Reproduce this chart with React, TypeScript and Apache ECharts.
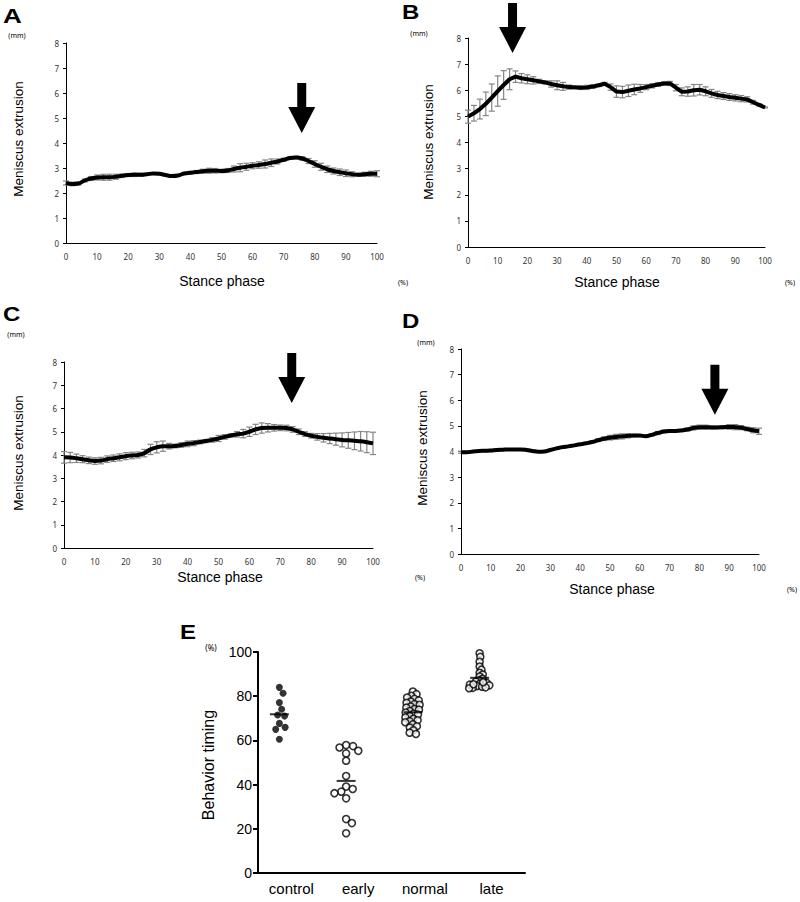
import React, { useEffect, useRef } from "react";
import * as echarts from "echarts";

// ---------- data ----------
const PHASE = [0, 2, 4, 6, 8, 10, 12, 14, 16, 18, 20, 22, 24, 26, 28, 30, 32, 34, 36, 38, 40, 42, 44, 46, 48, 50, 52, 54, 56, 58, 60, 62, 64, 66, 68, 70, 72, 74, 76, 78, 80, 82, 84, 86, 88, 90, 92, 94, 96, 98, 100];

const A_MEAN = [2.40, 2.36, 2.38, 2.50, 2.58, 2.62, 2.63, 2.63, 2.65, 2.69, 2.72, 2.73, 2.73, 2.75, 2.78, 2.77, 2.72, 2.68, 2.70, 2.78, 2.81, 2.84, 2.87, 2.89, 2.89, 2.88, 2.90, 2.96, 3.01, 3.05, 3.09, 3.12, 3.16, 3.21, 3.26, 3.33, 3.40, 3.42, 3.38, 3.28, 3.16, 3.05, 2.95, 2.88, 2.83, 2.79, 2.75, 2.73, 2.75, 2.77, 2.77];
const A_SD = [0.08, 0.07, 0.06, 0.06, 0.08, 0.10, 0.12, 0.12, 0.10, 0.07, 0.06, 0.07, 0.06, 0.04, 0.03, 0.03, 0.03, 0.03, 0.04, 0.04, 0.05, 0.06, 0.08, 0.10, 0.09, 0.07, 0.08, 0.12, 0.16, 0.14, 0.12, 0.13, 0.16, 0.15, 0.10, 0.06, 0.05, 0.05, 0.07, 0.10, 0.13, 0.14, 0.13, 0.12, 0.13, 0.13, 0.10, 0.06, 0.08, 0.10, 0.12];

const B_MEAN = [4.99, 5.12, 5.28, 5.48, 5.72, 5.97, 6.20, 6.42, 6.52, 6.46, 6.42, 6.38, 6.34, 6.30, 6.24, 6.19, 6.15, 6.12, 6.11, 6.10, 6.11, 6.14, 6.19, 6.25, 6.12, 5.95, 5.93, 5.98, 6.03, 6.07, 6.12, 6.17, 6.22, 6.26, 6.26, 6.10, 5.94, 5.95, 6.00, 6.02, 5.96, 5.88, 5.82, 5.78, 5.74, 5.71, 5.68, 5.65, 5.54, 5.44, 5.34];
const B_SD = [0.25, 0.30, 0.38, 0.45, 0.52, 0.58, 0.55, 0.40, 0.22, 0.18, 0.17, 0.14, 0.08, 0.06, 0.12, 0.17, 0.15, 0.08, 0.06, 0.07, 0.08, 0.07, 0.05, 0.05, 0.12, 0.22, 0.22, 0.22, 0.20, 0.15, 0.10, 0.08, 0.07, 0.06, 0.08, 0.12, 0.15, 0.18, 0.22, 0.20, 0.17, 0.15, 0.14, 0.13, 0.13, 0.12, 0.12, 0.10, 0.07, 0.04, 0.02];

const C_MEAN = [3.90, 3.89, 3.86, 3.82, 3.77, 3.74, 3.76, 3.82, 3.86, 3.90, 3.95, 3.98, 4.00, 4.08, 4.24, 4.33, 4.38, 4.38, 4.39, 4.43, 4.48, 4.51, 4.56, 4.60, 4.65, 4.71, 4.78, 4.84, 4.89, 4.92, 5.00, 5.10, 5.16, 5.17, 5.17, 5.17, 5.16, 5.10, 5.00, 4.90, 4.83, 4.78, 4.74, 4.71, 4.68, 4.65, 4.63, 4.61, 4.59, 4.55, 4.50];
const C_SD = [0.25, 0.22, 0.18, 0.15, 0.14, 0.14, 0.14, 0.14, 0.14, 0.15, 0.15, 0.14, 0.13, 0.16, 0.22, 0.24, 0.22, 0.12, 0.08, 0.10, 0.12, 0.11, 0.08, 0.07, 0.10, 0.13, 0.10, 0.07, 0.12, 0.18, 0.20, 0.22, 0.22, 0.18, 0.14, 0.12, 0.12, 0.12, 0.12, 0.10, 0.10, 0.14, 0.18, 0.22, 0.26, 0.30, 0.34, 0.38, 0.42, 0.45, 0.48];

const D_MEAN = [3.97, 3.97, 4.00, 4.02, 4.03, 4.04, 4.06, 4.07, 4.08, 4.08, 4.08, 4.06, 4.02, 3.99, 4.00, 4.06, 4.12, 4.17, 4.20, 4.24, 4.28, 4.32, 4.37, 4.44, 4.50, 4.54, 4.57, 4.59, 4.61, 4.62, 4.62, 4.60, 4.65, 4.72, 4.78, 4.80, 4.80, 4.82, 4.86, 4.92, 4.95, 4.95, 4.94, 4.94, 4.95, 4.96, 4.95, 4.93, 4.88, 4.83, 4.79];
const D_SD = [0.04, 0.04, 0.03, 0.03, 0.04, 0.04, 0.04, 0.04, 0.03, 0.03, 0.03, 0.03, 0.03, 0.03, 0.03, 0.03, 0.03, 0.03, 0.03, 0.03, 0.03, 0.03, 0.04, 0.05, 0.07, 0.09, 0.10, 0.10, 0.08, 0.05, 0.04, 0.04, 0.05, 0.06, 0.05, 0.04, 0.04, 0.04, 0.06, 0.08, 0.08, 0.08, 0.06, 0.05, 0.06, 0.09, 0.10, 0.08, 0.07, 0.10, 0.12];

// arrow tip positions [phase %, extrusion mm]
const ARROW_A = [75.8, 4.4];
const ARROW_B = [15.0, 7.43];
const ARROW_C = [73.7, 6.24];
const ARROW_D = [85.2, 5.43];

const E_CATEGORIES = ["control", "early", "normal", "late"];
const E_CONTROL = [84.0, 81.3, 77.1, 74.1, 71.5, 71.0, 67.7, 65.9, 65.0, 60.5];
const E_EARLY = [57.9, 57.4, 56.8, 55.3, 54.1, 50.8, 43.9, 39.1, 38.0, 36.8, 36.1, 33.8, 24.4, 22.6, 18.0];
const E_NORMAL = [82.1, 80.9, 80.2, 79.4, 78.8, 78.1, 77.6, 77.0, 76.4, 76.1, 75.3, 74.8, 74.2, 73.9, 73.3, 72.6, 72.1, 71.7, 71.0, 70.4, 69.8, 69.1, 68.7, 68.2, 67.3, 66.4, 65.8, 64.6, 63.5, 62.9];
const E_LATE = [99.4, 97.8, 95.6, 93.4, 92.0, 90.6, 89.8, 88.9, 87.9, 87.2, 86.6, 86.0, 85.6, 85.2, 84.9, 84.6, 84.3, 84.0, 83.8, 83.6, 85.4, 86.3];

// ---------- helpers ----------
const SANS = '"Liberation Sans", Arial, sans-serif';
const TICKFONT = '"Noto Sans", "Open Sans", sans-serif';

function swarmOffsets(values: number[], pxPerUnit: number, d: number): number[] {
  const idx = values.map((_, i) => i).sort((a, b) => values[b] - values[a]);
  const placed: { y: number; x: number }[] = [];
  const out: number[] = new Array(values.length).fill(0);
  for (const i of idx) {
    const y = values[i] * pxPerUnit;
    const cands = [0];
    for (const p of placed) {
      const dy = Math.abs(p.y - y);
      if (dy < d) {
        const w = Math.sqrt(d * d - dy * dy);
        cands.push(p.x + w + 0.01, p.x - w - 0.01);
      }
    }
    cands.sort((a, b) => Math.abs(a) - Math.abs(b));
    let chosen = 0;
    for (const c of cands) {
      let ok = true;
      for (const p of placed) {
        const dx = p.x - c, dy = p.y - y;
        if (dx * dx + dy * dy < d * d - 0.001) { ok = false; break; }
      }
      if (ok) { chosen = c; break; }
    }
    placed.push({ y, x: chosen });
    out[i] = chosen;
  }
  return out;
}

function mean(v: number[]) {
  return v.reduce((s, x) => s + x, 0) / v.length;
}

function panelAxes(gi: number) {
  const xAxis = {
    type: "value", gridIndex: gi, min: 0, max: 100, interval: 10,
    axisLine: { show: true, onZero: false, lineStyle: { color: "#000", width: 1 } },
    axisTick: { show: false },
    splitLine: { show: false },
    axisLabel: { fontSize: 8, color: "#333", fontFamily: TICKFONT, margin: 9 },
  };
  const yAxis = {
    type: "value", gridIndex: gi, min: 0, max: 8, interval: 1,
    axisLine: { show: true, lineStyle: { color: "#000", width: 1 } },
    axisTick: { show: true, inside: false, length: 3, lineStyle: { color: "#000" } },
    splitLine: { show: false },
    axisLabel: { fontSize: 8, color: "#333", fontFamily: TICKFONT, margin: 7 },
  };
  return { xAxis, yAxis };
}

function panelSeries(gi: number, meanArr: number[], sdArr: number[], smooth: boolean, arrow: number[]) {
  const errData = PHASE.map((p, i) => [p, meanArr[i], sdArr[i]]);
  return [
    {
      type: "custom", xAxisIndex: gi, yAxisIndex: gi, z: 2, silent: true,
      data: errData, encode: { x: 0, y: 1 },
      renderItem: (_params: any, api: any) => {
        const x = api.value(0), m = api.value(1), s = api.value(2);
        const t = api.coord([x, m + s]);
        const b = api.coord([x, m - s]);
        const st = { stroke: "#858585", lineWidth: 1.2 };
        return {
          type: "group",
          children: [
            { type: "line", shape: { x1: t[0], y1: t[1], x2: b[0], y2: b[1] }, style: st },
            { type: "line", shape: { x1: t[0] - 3, y1: t[1], x2: t[0] + 3, y2: t[1] }, style: st },
            { type: "line", shape: { x1: b[0] - 3, y1: b[1], x2: b[0] + 3, y2: b[1] }, style: st },
          ],
        };
      },
    },
    {
      type: "line", xAxisIndex: gi, yAxisIndex: gi, z: 3, silent: true,
      data: PHASE.map((p, i) => [p, meanArr[i]]),
      showSymbol: false, smooth: smooth ? 0.4 : false,
      lineStyle: { color: "#000", width: 4 },
    },
    {
      type: "custom", xAxisIndex: gi, yAxisIndex: gi, z: 4, silent: true,
      data: [arrow], encode: { x: 0, y: 1 },
      renderItem: (_params: any, api: any) => {
        const p = api.coord([api.value(0), api.value(1)]);
        const [x, y] = p;
        return {
          type: "polygon",
          shape: {
            points: [
              [x, y], [x - 13.5, y - 26], [x - 4.5, y - 26], [x - 4.5, y - 50],
              [x + 4.5, y - 50], [x + 4.5, y - 26], [x + 13.5, y - 26],
            ],
          },
          style: { fill: "#000" },
        };
      },
    },
  ];
}

function txt(text: string, x: number, y: number, size: number, opts: any = {}) {
  return {
    type: "text", x, y, rotation: opts.rotation || 0, scaleX: opts.scaleX || 1,
    silent: true,
    style: {
      text, fill: "#000",
      fontSize: size, fontFamily: opts.family || SANS, fontWeight: opts.weight || "normal",
      textAlign: opts.align || "center", textVerticalAlign: opts.valign || "middle",
      align: opts.align || "center", verticalAlign: opts.valign || "middle",
    },
  };
}

export default function App() {
  const ref = useRef<HTMLDivElement>(null);

  useEffect(() => {
    if (!ref.current) return;
    const chart = echarts.init(ref.current, null, { renderer: "svg" });

    const grids = [
      { left: 66, top: 43, width: 311, height: 200 },
      { left: 468, top: 38, width: 297, height: 209 },
      { left: 64, top: 362, width: 309, height: 186 },
      { left: 461, top: 349, width: 298, height: 205 },
      { left: 258, top: 652, width: 267, height: 221 },
    ];

    const xAxes: any[] = [];
    const yAxes: any[] = [];
    for (let g = 0; g < 4; g++) {
      const a = panelAxes(g);
      xAxes.push(a.xAxis);
      yAxes.push(a.yAxis);
    }
    xAxes.push({
      type: "category", gridIndex: 4, data: E_CATEGORIES, boundaryGap: true,
      axisLine: { show: true, lineStyle: { color: "#000", width: 2 } },
      axisTick: { show: false },
      axisLabel: { fontSize: 15, color: "#000", fontFamily: SANS, margin: 8 },
    });
    yAxes.push({
      type: "value", gridIndex: 4, min: 0, max: 100, interval: 20,
      axisLine: { show: true, lineStyle: { color: "#000", width: 2 } },
      axisTick: { show: true, inside: false, length: 5, lineStyle: { color: "#000", width: 2 } },
      splitLine: { show: false },
      axisLabel: { fontSize: 14, color: "#000", fontFamily: SANS, margin: 6 },
    });

    const pxPerUnit = grids[4].height / 100;
    const SHIFT = -12;
    const groups = [
      { vals: E_CONTROL, filled: true, d: 7 },
      { vals: E_EARLY, filled: false, d: 7 },
      { vals: E_NORMAL, filled: false, d: 4.5 },
      { vals: E_LATE, filled: false, d: 3.6 },
    ];
    const eSeries: any[] = [];
    groups.forEach((g, ci) => {
      const offs = swarmOffsets(g.vals, pxPerUnit, g.d);
      eSeries.push({
        type: "scatter", xAxisIndex: 4, yAxisIndex: 4, z: 3, silent: true,
        symbol: "circle", symbolSize: 7,
        itemStyle: g.filled
          ? { color: "#000" }
          : { color: "#fff", borderColor: "#000", borderWidth: 1.6 },
        data: g.vals.map((v, i) => ({ value: [ci, v], symbolOffset: [offs[i] + SHIFT, 0] })),
      });
    });
    eSeries.push({
      type: "scatter", xAxisIndex: 4, yAxisIndex: 4, z: 5, silent: true,
      symbol: "rect", symbolSize: [19, 2], symbolOffset: [SHIFT, 0],
      itemStyle: { color: "#000" },
      data: groups.map((g, ci) => [ci, mean(g.vals)]),
    });

    const graphic: any[] = [
      // panel letters
      txt("A", 3, 6, 20, { weight: "bold", align: "left", valign: "top", scaleX: 1.3 }),
      txt("B", 402, 2, 20, { weight: "bold", align: "left", valign: "top", scaleX: 1.2 }),
      txt("C", 3, 304, 20, { weight: "bold", align: "left", valign: "top", scaleX: 1.2 }),
      txt("D", 402, 311, 20, { weight: "bold", align: "left", valign: "top", scaleX: 1.2 }),
      txt("E", 180, 622, 20, { weight: "bold", align: "left", valign: "top", scaleX: 1.2 }),
      // units
      txt("(mm)", 17, 35, 7, { family: TICKFONT }),
      txt("(mm)", 419, 33, 7, { family: TICKFONT }),
      txt("(mm)", 16, 334, 7, { family: TICKFONT }),
      txt("(mm)", 426, 342, 7, { family: TICKFONT }),
      txt("(%)", 403, 282, 7, { family: TICKFONT }),
      txt("(%)", 790, 282, 7, { family: TICKFONT }),
      txt("(%)", 420, 577, 7, { family: TICKFONT }),
      txt("(%)", 792, 589, 7, { family: TICKFONT }),
      txt("(%)", 211, 647, 8, { family: TICKFONT }),
      // axis titles
      txt("Meniscus extrusion", 18, 139, 13.5, { rotation: Math.PI / 2 }),
      txt("Meniscus extrusion", 428, 142, 13.5, { rotation: Math.PI / 2 }),
      txt("Meniscus extrusion", 18, 453, 13.5, { rotation: Math.PI / 2 }),
      txt("Meniscus extrusion", 422, 448, 13.5, { rotation: Math.PI / 2 }),
      txt("Stance phase", 222, 281, 14),
      txt("Stance phase", 617, 282, 14),
      txt("Stance phase", 220, 577, 14),
      txt("Stance phase", 612, 589, 14),
      txt("Behavior timing", 208, 765, 16, { rotation: Math.PI / 2 }),
    ];

    chart.setOption({
      animation: false,
      backgroundColor: "#fff",
      grid: grids.map((g) => ({ ...g, containLabel: false })),
      xAxis: xAxes,
      yAxis: yAxes,
      series: [
        ...panelSeries(0, A_MEAN, A_SD, true, ARROW_A),
        ...panelSeries(1, B_MEAN, B_SD, false, ARROW_B),
        ...panelSeries(2, C_MEAN, C_SD, true, ARROW_C),
        ...panelSeries(3, D_MEAN, D_SD, true, ARROW_D),
        ...eSeries,
      ],
      graphic,
    });

    return () => chart.dispose();
  }, []);

  return (
    <div
      ref={ref}
      style={{ position: "fixed", left: 0, top: 0, width: 800, height: 902, background: "#fff" }}
    />
  );
}
